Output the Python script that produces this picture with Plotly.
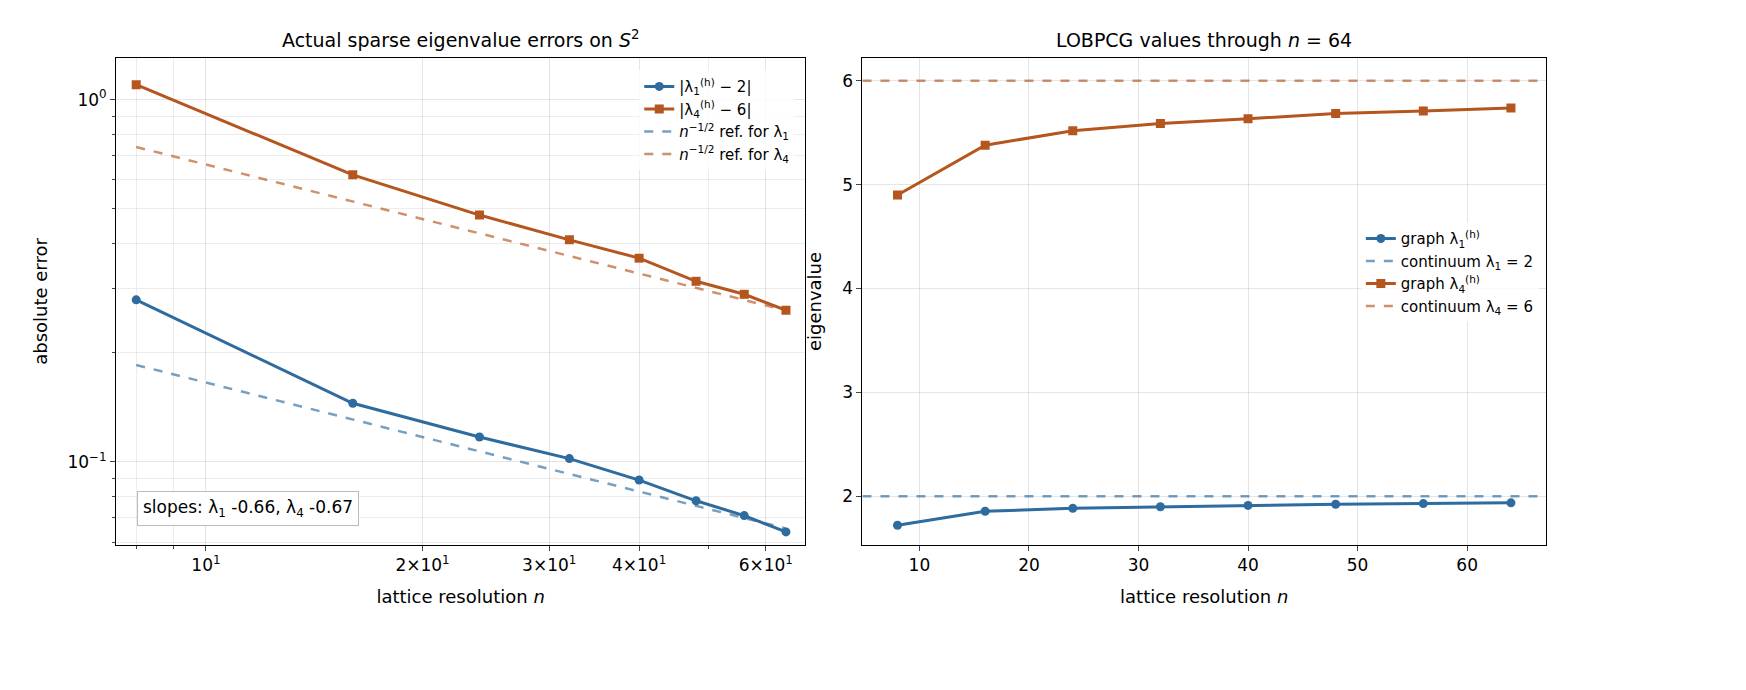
import plotly.graph_objects as go

# data
# ----
n = [8, 16, 24, 32, 40, 48, 56, 64]
lam1 = [1.720, 1.855, 1.883, 1.898, 1.911, 1.922, 1.929, 1.936]
lam4 = [4.900, 5.380, 5.520, 5.590, 5.635, 5.685, 5.710, 5.738]
err1 = [2 - v for v in lam1]
err4 = [6 - v for v in lam4]
ref1 = [0.185 * (8 / k) ** 0.5 for k in n]
ref4 = [0.74 * (8 / k) ** 0.5 for k in n]

blue = '#2e6b9e'
orange = '#b5561f'
blue_l = 'rgba(46,107,158,0.65)'
orange_l = 'rgba(181,86,31,0.65)'

fig = go.Figure()

# left panel: errors
fig.add_trace(go.Scatter(x=n, y=err1, mode='lines+markers', name='|λ<sub>1</sub><sup>(h)</sup> − 2|',
                         line=dict(color=blue, width=3), marker=dict(symbol='circle', size=9),
                         xaxis='x', yaxis='y', legend='legend'))
fig.add_trace(go.Scatter(x=n, y=err4, mode='lines+markers', name='|λ<sub>4</sub><sup>(h)</sup> − 6|',
                         line=dict(color=orange, width=3), marker=dict(symbol='square', size=9),
                         xaxis='x', yaxis='y', legend='legend'))
fig.add_trace(go.Scatter(x=n, y=ref1, mode='lines', name='<i>n</i><sup>−1/2</sup> ref. for λ<sub>1</sub>',
                         line=dict(color=blue_l, width=2.5, dash='dash'), xaxis='x', yaxis='y', legend='legend'))
fig.add_trace(go.Scatter(x=n, y=ref4, mode='lines', name='<i>n</i><sup>−1/2</sup> ref. for λ<sub>4</sub>',
                         line=dict(color=orange_l, width=2.5, dash='dash'), xaxis='x', yaxis='y', legend='legend'))

# right panel: values
fig.add_trace(go.Scatter(x=n, y=lam1, mode='lines+markers', name='graph λ<sub>1</sub><sup>(h)</sup>',
                         line=dict(color=blue, width=3), marker=dict(symbol='circle', size=9),
                         xaxis='x2', yaxis='y2', legend='legend2'))
fig.add_trace(go.Scatter(x=[4.8, 67.2], y=[2, 2], mode='lines', name='continuum λ<sub>1</sub> = 2',
                         line=dict(color=blue_l, width=2.5, dash='dash'), xaxis='x2', yaxis='y2', legend='legend2'))
fig.add_trace(go.Scatter(x=n, y=lam4, mode='lines+markers', name='graph λ<sub>4</sub><sup>(h)</sup>',
                         line=dict(color=orange, width=3), marker=dict(symbol='square', size=9),
                         xaxis='x2', yaxis='y2', legend='legend2'))
fig.add_trace(go.Scatter(x=[4.8, 67.2], y=[6, 6], mode='lines', name='continuum λ<sub>4</sub> = 6',
                         line=dict(color=orange_l, width=2.5, dash='dash'), xaxis='x2', yaxis='y2', legend='legend2'))

ax = dict(showline=True, mirror=True, linecolor='black', linewidth=1, ticks='outside',
          gridcolor='rgba(0,0,0,0.1)', zeroline=False, tickfont=dict(size=17))

fig.update_layout(
    width=1746, height=690, plot_bgcolor='white', paper_bgcolor='white',
    font=dict(family='DejaVu Sans', size=16, color='black'),
    margin=dict(l=108, r=208, t=50, b=153),
    xaxis=dict(ax, type='log', domain=[0, 0.482], range=[0.875, 1.833],
               tickvals=[10, 20, 30, 40, 60],
               ticktext=['10<sup>1</sup>', '2×10<sup>1</sup>', '3×10<sup>1</sup>', '4×10<sup>1</sup>', '6×10<sup>1</sup>'],
               minor=dict(tickvals=[8, 9, 50, 70], ticks='outside', showgrid=True, gridcolor='rgba(0,0,0,0.07)'),
               title=dict(text='lattice resolution <i>n</i>', font=dict(size=18))),
    yaxis=dict(ax, type='log', range=[-1.23, 0.115],
               tickvals=[0.1, 1], ticktext=['10<sup>−1</sup>', '10<sup>0</sup>'],
               minor=dict(tickvals=[0.06, 0.07, 0.08, 0.09, 0.2, 0.3, 0.4, 0.5, 0.6, 0.7, 0.8, 0.9],
                          ticks='outside', showgrid=True, gridcolor='rgba(0,0,0,0.07)'),
               title=dict(text='absolute error', font=dict(size=18))),
    xaxis2=dict(ax, domain=[0.522, 1], range=[4.8, 67.2], dtick=10,
                title=dict(text='lattice resolution <i>n</i>', font=dict(size=18))),
    yaxis2=dict(ax, anchor='x2', range=[1.53, 6.22], dtick=1,
                title=dict(text='eigenvalue', font=dict(size=18))),
    legend=dict(x=0.475, y=0.975, xanchor='right', yanchor='top', bgcolor='rgba(255,255,255,0.8)',
                font=dict(size=15)),
    legend2=dict(x=0.995, y=0.56, xanchor='right', yanchor='middle', bgcolor='rgba(255,255,255,0.8)',
                 font=dict(size=15)),
    annotations=[
        dict(text='Actual sparse eigenvalue errors on <i>S</i><sup>2</sup>', x=0.241, y=1.01,
             xref='paper', yref='paper', xanchor='center', yanchor='bottom', showarrow=False,
             font=dict(size=19)),
        dict(text='LOBPCG values through <i>n</i> = 64', x=0.761, y=1.01,
             xref='paper', yref='paper', xanchor='center', yanchor='bottom', showarrow=False,
             font=dict(size=19)),
        dict(text='slopes: λ<sub>1</sub> -0.66, λ<sub>4</sub> -0.67', x=0.015, y=0.04,
             xref='paper', yref='paper', xanchor='left', yanchor='bottom', showarrow=False,
             bordercolor='#bbbbbb', borderwidth=1, borderpad=5, bgcolor='white',
             font=dict(size=17)),
    ],
)

fig.write_html("out.html")
